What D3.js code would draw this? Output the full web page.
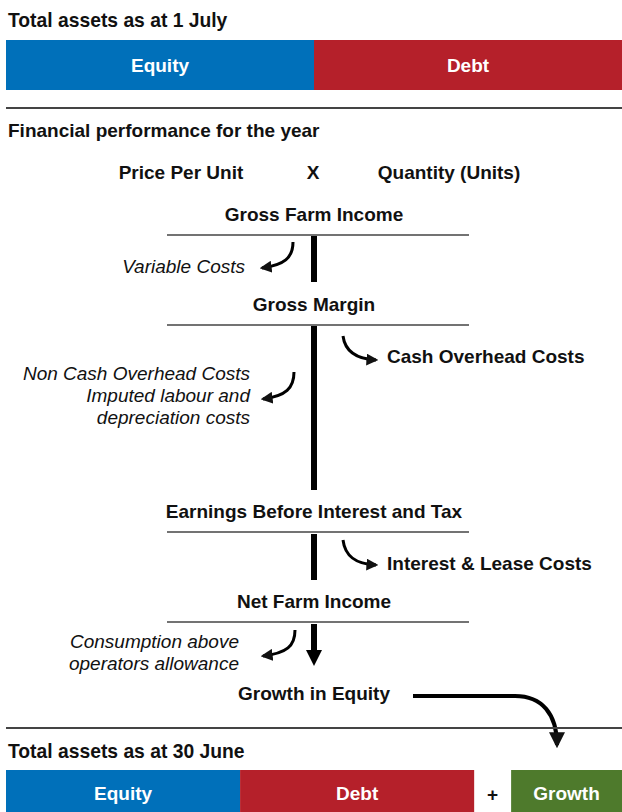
<!DOCTYPE html>
<html>
<head>
<meta charset="utf-8">
<title>Farm financial performance</title>
<script src="https://cdn.jsdelivr.net/npm/d3@7"></script>
<style>
  body { margin: 0; background: #fff; }
  text { font-family: "Liberation Sans", Arial, sans-serif; fill: #111; }
  .bold { font-weight: bold; }
  .ital { font-style: italic; }
</style>
</head>
<body>
<script>
// ---- data ----
var startCats = ["Equity", "Debt"];
var startVals = [50, 50];
var endCats = ["Equity", "Debt", "Growth"];
var endVals = [38, 38, 18];
var endGap = 6; // space for the "+" sign, in the same units
var barColors = ["#0070BA", "#B5202A", "#4E7A2C"];

var stages = ["Gross Farm Income", "Gross Margin", "Earnings Before Interest and Tax", "Net Farm Income", "Growth in Equity"];
var leftCosts = [["Variable Costs"], ["Non Cash Overhead Costs", "Imputed labour and", "depreciation costs"], ["Consumption above", "operators allowance"]];
var rightCosts = ["Cash Overhead Costs", "Interest & Lease Costs"];

var w = 622, h = 812;
var cx = 314;
var fs = 19;

var svg = d3.select("body").append("svg")
    .attr("width", w)
    .attr("height", h);

// arrowhead marker
svg.append("defs").append("marker")
    .attr("id", "head")
    .attr("viewBox", "0 0 10 10")
    .attr("refX", 8).attr("refY", 5)
    .attr("markerWidth", 4).attr("markerHeight", 4)
    .attr("orient", "auto")
    .append("path")
    .attr("d", "M0,0 L10,5 L0,10 z")
    .attr("fill", "#111");

var x = d3.scaleLinear().domain([0, 100]).range([6, 622]);

// ---- top: total assets 1 July ----
svg.append("text").attr("class", "bold").attr("x", 8).attr("y", 27)
    .style("font-size", "19.3px").text("Total assets as at 1 July");

var startStack = [];
var acc = 0;
startVals.forEach(function(v, i) {
    startStack.push({ name: startCats[i], x0: acc, x1: acc + v, c: barColors[i] });
    acc += v;
});

var topBar = svg.append("g");
topBar.selectAll("rect").data(startStack).enter().append("rect")
    .attr("x", function(d) { return x(d.x0); })
    .attr("width", function(d) { return x(d.x1) - x(d.x0); })
    .attr("y", 40).attr("height", 50)
    .attr("fill", function(d) { return d.c; });
topBar.selectAll("text").data(startStack).enter().append("text")
    .attr("class", "bold")
    .attr("x", function(d) { return (x(d.x0) + x(d.x1)) / 2; })
    .attr("y", 72)
    .attr("text-anchor", "middle")
    .style("font-size", fs + "px")
    .style("fill", "#fff")
    .text(function(d) { return d.name; });

svg.append("line").attr("x1", 6).attr("x2", 622).attr("y1", 108).attr("y2", 108)
    .attr("stroke", "#444").attr("stroke-width", 2);

// ---- middle: financial performance ----
svg.append("text").attr("class", "bold").attr("x", 8).attr("y", 137)
    .style("font-size", fs + "px").text("Financial performance for the year");

[["Price Per Unit", 181], ["X", 313], ["Quantity (Units)", 449]].forEach(function(t) {
    svg.append("text").attr("class", "bold").attr("x", t[1]).attr("y", 179)
        .attr("text-anchor", "middle").style("font-size", fs + "px").text(t[0]);
});

var stageY = [221, 311, 518, 608, 700];
stages.forEach(function(s, i) {
    svg.append("text").attr("class", "bold").attr("x", cx).attr("y", stageY[i])
        .attr("text-anchor", "middle").style("font-size", fs + "px").text(s);
    if (i < 4) {
        svg.append("line").attr("x1", 167).attr("x2", 469)
            .attr("y1", stageY[i] + 14).attr("y2", stageY[i] + 14)
            .attr("stroke", "#444").attr("stroke-width", 1.5);
    }
});

// thick flow bars
[[236, 282], [326, 490], [534, 580]].forEach(function(s) {
    svg.append("line").attr("x1", cx).attr("x2", cx).attr("y1", s[0]).attr("y2", s[1])
        .attr("stroke", "#000").attr("stroke-width", 6);
});
svg.append("line").attr("x1", cx).attr("x2", cx).attr("y1", 624).attr("y2", 652)
    .attr("stroke", "#000").attr("stroke-width", 6);
svg.append("path").attr("d", "M" + (cx - 8) + ",650 L" + (cx + 8) + ",650 L" + cx + ",666 z")
    .attr("fill", "#000");

// curved cost arrows
var curves = [
    "M293,242 C293,258 284,265 262,268",
    "M343,336 C345,351 355,359 376,360",
    "M294,372 C294,388 286,396 263,399",
    "M343,540 C345,556 355,564 376,565",
    "M295,630 C295,646 287,653 263,656"
];
curves.forEach(function(d) {
    svg.append("path").attr("d", d).attr("fill", "none")
        .attr("stroke", "#000").attr("stroke-width", 3)
        .attr("marker-end", "url(#head)");
});
svg.append("path").attr("d", "M413,696 L515,696 C542,696 557,714 557,745")
    .attr("fill", "none").attr("stroke", "#000").attr("stroke-width", 4)
    .attr("marker-end", "url(#head)");

// left (italic) cost labels
var leftPos = [[245, 273], [250, 380], [239, 648]];
leftCosts.forEach(function(lines, i) {
    lines.forEach(function(l, j) {
        svg.append("text").attr("class", "ital")
            .attr("x", leftPos[i][0]).attr("y", leftPos[i][1] + j * 22)
            .attr("text-anchor", "end").style("font-size", fs + "px").text(l);
    });
});
// right (bold) cost labels
var rightY = [363, 570];
rightCosts.forEach(function(l, i) {
    svg.append("text").attr("class", "bold").attr("x", 387).attr("y", rightY[i])
        .style("font-size", fs + "px").text(l);
});

svg.append("line").attr("x1", 6).attr("x2", 622).attr("y1", 728).attr("y2", 728)
    .attr("stroke", "#444").attr("stroke-width", 2);

// ---- bottom: total assets 30 June ----
svg.append("text").attr("class", "bold").attr("x", 8).attr("y", 758)
    .style("font-size", "19.3px").text("Total assets as at 30 June");

var endStack = [];
acc = 0;
endVals.forEach(function(v, i) {
    if (i == 2) acc += endGap;
    endStack.push({ name: endCats[i], x0: acc, x1: acc + v, c: barColors[i] });
    acc += v;
});

var botBar = svg.append("g");
botBar.selectAll("rect").data(endStack).enter().append("rect")
    .attr("x", function(d) { return x(d.x0); })
    .attr("width", function(d) { return x(d.x1) - x(d.x0); })
    .attr("y", 770).attr("height", 42)
    .attr("fill", function(d) { return d.c; });
botBar.selectAll("text").data(endStack).enter().append("text")
    .attr("class", "bold")
    .attr("x", function(d) { return (x(d.x0) + x(d.x1)) / 2; })
    .attr("y", 800)
    .attr("text-anchor", "middle")
    .style("font-size", fs + "px")
    .style("fill", "#fff")
    .text(function(d) { return d.name; });
svg.append("text").attr("class", "bold")
    .attr("x", x(endVals[0] + endVals[1] + endGap / 2)).attr("y", 801)
    .attr("text-anchor", "middle").style("font-size", fs + "px").text("+");
</script>
</body>
</html>
